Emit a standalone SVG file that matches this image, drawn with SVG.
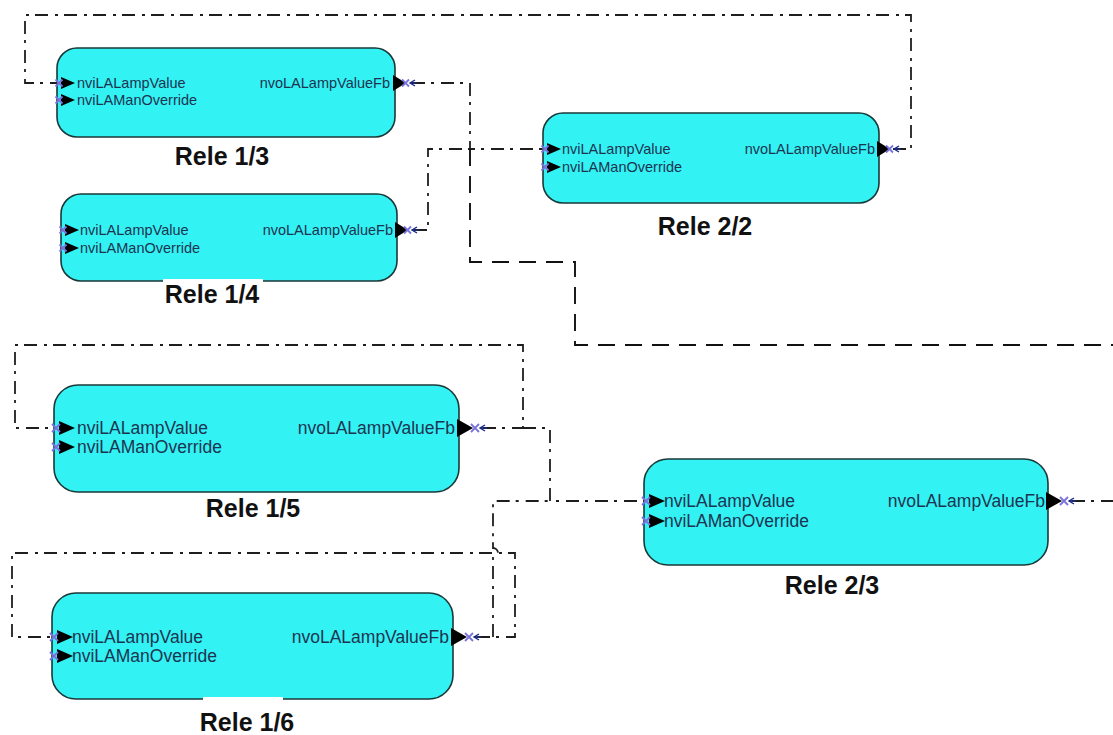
<svg xmlns="http://www.w3.org/2000/svg" xmlns:xlink="http://www.w3.org/1999/xlink" width="1113" height="735" viewBox="0 0 1113 735">
  <style>
    .box { fill: #33f2f4; stroke: #1b3838; stroke-width: 1.6; }
    .pt { font-family: "Liberation Sans", Arial, sans-serif; fill: #1d3450; }
    .s { font-size: 14.5px; }
    .l { font-size: 17.5px; }
    .end { text-anchor: end; }
    .lbl { font-family: "Liberation Sans", Arial, sans-serif; font-weight: bold; font-size: 25px; fill: #111; text-anchor: middle; }
    .dd { fill: none; stroke: #1e1e1e; stroke-width: 1.8; stroke-dasharray: 13 6 3 7; }
    .dash { fill: none; stroke: #111; stroke-width: 1.9; stroke-dasharray: 17 10; }
    .tri { fill: #000; }
    .xm { fill: none; stroke: #7a72dc; stroke-width: 1.8; }
    .ar { fill: none; stroke: #1a2a80; stroke-width: 1.4; }
    .cut { fill: #fff; }
  </style>
  <defs>
    <!-- input port: cross marker on the edge, triangle pointing in -->
    <g id="inS">
      <polygon class="tri" points="4,-6 4,6 18,0"/>
      <path class="xm" d="M-1.5,-3.5 L5.5,3.5 M-1.5,3.5 L5.5,-3.5"/>
    </g>
    <g id="inL">
      <polygon class="tri" points="5,-7 5,7 21,0"/>
      <path class="xm" d="M-2,-4 L6,4 M-2,4 L6,-4"/>
    </g>
    <!-- output port: triangle pointing out, cross marker, small arrowhead -->
    <g id="outS">
      <polygon class="tri" points="-2,-8 -2,8 11,0"/>
      <path class="xm" d="M7,-3.5 L14,3.5 M7,3.5 L14,-3.5"/>
      <path class="ar" d="M20,-3 L15,0 L20,3 M15,0 H22"/>
    </g>
    <g id="outL">
      <polygon class="tri" points="-2,-9 -2,9 14,0"/>
      <path class="xm" d="M12,-4 L20,4 M12,4 L20,-4"/>
      <path class="ar" d="M26,-3 L21,0 L26,3 M21,0 H28"/>
    </g>
  </defs>

  <rect width="1113" height="735" fill="#fff"/>

  <!-- network variable bindings -->
  <g id="connectors">
    <path class="dd" d="M893 149 H911 V15 H25 V83 H57"/>
    <path class="dd" d="M412 83 H470 V149 H543"/>
    <path class="dd" d="M414 230 H428 V149 H470"/>
    <path class="dash" d="M470 149 V262 H575 V345 H1113"/>
    <path class="dd" d="M483 428 H523 V345 H15 V428 H54"/>
    <path class="dd" d="M523 428 H550 V501 H644"/>
    <path class="dd" d="M477 637 H515 V553 H12 V637 H52"/>
    <path class="dd" d="M493 637 V558 A5 5 0 0 0 493 548 V501 H550"/>
    <path class="dd" d="M1072 501 H1113"/>
  </g>

  <g id="rele-1-3">
    <rect class="box" x="57" y="48" width="338" height="89" rx="20"/>
    <use xlink:href="#inS" x="57" y="83"/>
    <use xlink:href="#inS" x="57" y="100"/>
    <use xlink:href="#outS" x="395" y="83"/>
    <text class="pt s" x="77" y="88">nviLALampValue</text>
    <text class="pt s" x="77" y="105">nviLAManOverride</text>
    <text class="pt s end" x="390" y="88">nvoLALampValueFb</text>
    <text class="lbl" x="222" y="165">Rele 1/3</text>
  </g>

  <g id="rele-1-4">
    <rect class="box" x="61" y="194" width="336" height="87" rx="20"/>
    <use xlink:href="#inS" x="61" y="230"/>
    <use xlink:href="#inS" x="61" y="248"/>
    <use xlink:href="#outS" x="397" y="230"/>
    <text class="pt s" x="80" y="235">nviLALampValue</text>
    <text class="pt s" x="80" y="253">nviLAManOverride</text>
    <text class="pt s end" x="393" y="235">nvoLALampValueFb</text>
    <rect class="cut" x="163" y="279" width="100" height="4"/>
    <text class="lbl" x="212" y="303">Rele 1/4</text>
  </g>

  <g id="rele-2-2">
    <rect class="box" x="543" y="113" width="336" height="90" rx="20"/>
    <use xlink:href="#inS" x="543" y="149"/>
    <use xlink:href="#inS" x="543" y="167"/>
    <use xlink:href="#outS" x="879" y="149"/>
    <text class="pt s" x="562" y="154">nviLALampValue</text>
    <text class="pt s" x="562" y="172">nviLAManOverride</text>
    <text class="pt s end" x="875" y="154">nvoLALampValueFb</text>
    <text class="lbl" x="705" y="235">Rele 2/2</text>
  </g>

  <g id="rele-1-5">
    <rect class="box" x="54" y="385" width="405" height="107" rx="24"/>
    <use xlink:href="#inL" x="54" y="428"/>
    <use xlink:href="#inL" x="54" y="447"/>
    <use xlink:href="#outL" x="459" y="428"/>
    <text class="pt l" x="77" y="434">nviLALampValue</text>
    <text class="pt l" x="77" y="453">nviLAManOverride</text>
    <text class="pt l end" x="455" y="434">nvoLALampValueFb</text>
    <text class="lbl" x="253" y="517">Rele 1/5</text>
  </g>

  <g id="rele-2-3">
    <rect class="box" x="644" y="459" width="404" height="106" rx="24"/>
    <use xlink:href="#inL" x="644" y="501"/>
    <use xlink:href="#inL" x="644" y="521"/>
    <use xlink:href="#outL" x="1048" y="501"/>
    <text class="pt l" x="664" y="507">nviLALampValue</text>
    <text class="pt l" x="664" y="527">nviLAManOverride</text>
    <text class="pt l end" x="1045" y="507">nvoLALampValueFb</text>
    <text class="lbl" x="832" y="594">Rele 2/3</text>
  </g>

  <g id="rele-1-6">
    <rect class="box" x="52" y="593" width="401" height="106" rx="24"/>
    <use xlink:href="#inL" x="52" y="637"/>
    <use xlink:href="#inL" x="52" y="656"/>
    <use xlink:href="#outL" x="453" y="637"/>
    <text class="pt l" x="72" y="643">nviLALampValue</text>
    <text class="pt l" x="72" y="662">nviLAManOverride</text>
    <text class="pt l end" x="449" y="643">nvoLALampValueFb</text>
    <rect class="cut" x="203" y="697" width="80" height="4"/>
    <text class="lbl" x="247" y="731">Rele 1/6</text>
  </g>
</svg>
